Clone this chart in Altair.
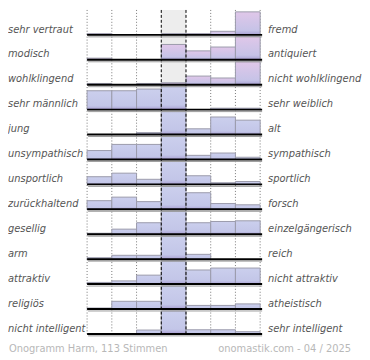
import altair as alt
import pandas as pd

left_labels = ["sehr vertraut", "modisch", "wohlklingend", "sehr männlich", " jung",
               "unsympathisch", "unsportlich", "zurückhaltend", "gesellig", "arm",
               "attraktiv", "religiös", "nicht intelligent"]
right_labels = ["fremd", "antiquiert", "nicht wohlklingend", "sehr weiblich", "alt",
                "sympathisch", "sportlich", "forsch", "einzelgängerisch", "reich",
                "nicht attraktiv", "atheistisch", "sehr intelligent"]

# bar heights per row (7 answer columns); 26 = one row
row_values = [
    [1.3, 0, 0, 1.3, 1.3, 3.7, 24],
    [1.7, 0, 0, 16, 9.3, 13.3, 24.3],
    [1.3, 0, 1.3, 2, 9, 7, 24],
    [19.7, 19.7, 21.5, 24, 0, 1.5, 1.5],
    [0, 0, 2, 24, 6, 18.3, 15],
    [9.3, 15.7, 15.7, 24, 4.3, 6.7, 2.3],
    [8, 11.7, 5.3, 24, 9, 1.7, 3],
    [9, 12.7, 8, 24, 17.3, 6, 4.7],
    [1, 5.3, 12, 24, 12, 13.3, 14],
    [1.5, 4, 4, 24, 5, 0, 0],
    [1.7, 3.3, 9.3, 24, 14.7, 16.7, 16.7],
    [1, 8, 8, 24, 3.7, 3.7, 5.3],
    [0, 0, 4, 24, 4.3, 4.3, 2.3],
]
warm_rows = [0, 1, 2]
footer_left = "Onogramm Harm, 113 Stimmen"
footer_right = "onomastik.com - 04 / 2025"

ROW = 26.0
NROWS = len(left_labels)

bars = pd.DataFrame([
    {"row": r, "col": c, "v": v, "warm": r in warm_rows}
    for r, vals in enumerate(row_values) for c, v in enumerate(vals) if v > 0
])
labels = pd.DataFrame({"row": list(range(NROWS)), "left": left_labels, "right": right_labels})
dotted = pd.DataFrame({"x": [0, 1, 2, 5, 6, 7]})
dashed = pd.DataFrame({"x": [3, 4]})
mid = pd.DataFrame({"x": [3], "x2": [4]})

xs = alt.Scale(domain=[0, 7], range=[80, 255])
ys = alt.Scale(domain=[0, NROWS], range=[0, 25.2 * NROWS])

def grad(top, mid_c):
    return alt.Gradient(
        gradient="linear", x1=0, x2=0, y1=0, y2=1,
        stops=[alt.GradientStop(color=top, offset=0),
               alt.GradientStop(color=mid_c, offset=0.8),
               alt.GradientStop(color="#b4b0dc", offset=0.92),
               alt.GradientStop(color="#a596cc", offset=1)])

bg = alt.Chart(mid).mark_rect(color="#ededed").encode(
    x=alt.X("x:Q", scale=xs, axis=None), x2="x2:Q",
    y=alt.Y("y0:Q", scale=ys, axis=None), y2="y1:Q",
).transform_calculate(y0="0", y1=str(NROWS))

dot_rules = alt.Chart(dotted).mark_rule(color="#777777", strokeDash=[1, 2], strokeWidth=1).encode(
    x=alt.X("x:Q", scale=xs, axis=None),
    y=alt.Y("y0:Q", scale=ys, axis=None), y2="y1:Q",
).transform_calculate(y0="0", y1=str(NROWS))

def bar_layer(warm, top, mid_c):
    return alt.Chart(bars).transform_filter(
        alt.datum.warm == warm
    ).transform_calculate(
        top_y=f"datum.row + 1 - datum.v / {ROW}",
        base_y="datum.row + 1",
        c2="datum.col + 1",
    ).mark_rect(fill=grad(top, mid_c), stroke="#9b9bab", strokeWidth=1).encode(
        x=alt.X("col:Q", scale=xs, axis=None), x2="c2:Q",
        y=alt.Y("top_y:Q", scale=ys, axis=None), y2="base_y:Q",
    )

bars_blue = bar_layer(False, "#cbcfed", "#c3c6e8")
bars_warm = bar_layer(True, "#e0c7e9", "#c6c3e7")

dash_rules = alt.Chart(dashed).mark_rule(color="#000000", strokeDash=[3, 2], strokeWidth=1).encode(
    x=alt.X("x:Q", scale=xs, axis=None),
    y=alt.Y("y0:Q", scale=ys, axis=None), y2="y1:Q",
).transform_calculate(y0="0", y1=str(NROWS))

base_common = alt.Chart(labels).transform_calculate(
    by="datum.row + 1", x0="0", x1="7.08"
)
shadow = base_common.mark_rule(color="#9a9a9a", strokeWidth=1, yOffset=2, xOffset=1).encode(
    x=alt.X("x0:Q", scale=xs, axis=None), x2="x1:Q",
    y=alt.Y("by:Q", scale=ys, axis=None),
)
baseline = base_common.mark_rule(color="#000000", strokeWidth=2).encode(
    x=alt.X("x0:Q", scale=xs, axis=None), x2="x1:Q",
    y=alt.Y("by:Q", scale=ys, axis=None),
)

txt = alt.Chart(labels).transform_calculate(ly=f"datum.row + 1 - 5.5 / {ROW}")
left_t = txt.mark_text(align="left", baseline="middle", font="DejaVu Sans", fontSize=10,
                       fontStyle="italic", color="#555555").encode(
    x=alt.value(0), y=alt.Y("ly:Q", scale=ys, axis=None), text="left:N")
right_t = txt.mark_text(align="left", baseline="middle", font="DejaVu Sans", fontSize=10,
                        fontStyle="italic", color="#555555").encode(
    x=alt.value(263), y=alt.Y("ly:Q", scale=ys, axis=None), text="right:N")

foot = pd.DataFrame({"l": [footer_left], "r": [footer_right]})
foot_l = alt.Chart(foot).mark_text(align="left", baseline="middle", font="DejaVu Sans",
                                   fontSize=10, color="#b8b8b8").encode(
    x=alt.value(1), y=alt.value(343), text="l:N")
foot_r = alt.Chart(foot).mark_text(align="right", baseline="middle", font="DejaVu Sans",
                                   fontSize=10, color="#b8b8b8").encode(
    x=alt.value(347), y=alt.value(343), text="r:N")

chart = alt.layer(
    bg, dot_rules, bars_blue, bars_warm, dash_rules, shadow, baseline,
    left_t, right_t, foot_l, foot_r
).properties(
    width=358, height=350,
    autosize=alt.AutoSizeParams(type="none"), padding=0,
).configure_view(stroke=None)

chart.save("out.html", embed_options={"renderer": "svg", "actions": False})
